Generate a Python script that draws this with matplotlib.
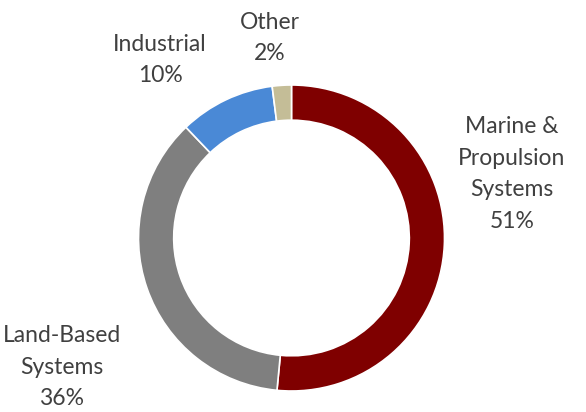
import matplotlib
matplotlib.use("Agg")
import matplotlib.pyplot as plt

categories = ["Marine &\nPropulsion\nSystems", "Land-Based\nSystems", "Industrial", "Other"]
values = [51, 36, 10, 2]
pct_labels = ["51%", "36%", "10%", "2%"]
colors = ["#7F0000", "#7F7F7F", "#4A89D6", "#C4BD97"]

W, H = 586, 412
fig = plt.figure(figsize=(W / 100, H / 100), dpi=100)
ax = fig.add_axes([0, 0, 1, 1])

cx, cy, r = 291.5, 238, 153
wedges, _ = ax.pie(values, colors=colors, startangle=-90, counterclock=True,
                   center=(cx, cy), radius=r,
                   wedgeprops=dict(width=r * 0.23, edgecolor="white", linewidth=1.2))
ax.set_xlim(0, W)
ax.set_ylim(H, 0)
ax.set_aspect("equal")
ax.axis("off")

label_pos = [(512, 174), (62, 367), (160, 60), (270, 38)]
for cat, pct, (x, y) in zip(categories, pct_labels, label_pos):
    ax.text(x, y, f"{cat}\n{pct}", ha="center", va="center", fontsize=16.5,
            family="Lato", color="#404040", linespacing=1.63)

fig.savefig("out.png", dpi=100)
